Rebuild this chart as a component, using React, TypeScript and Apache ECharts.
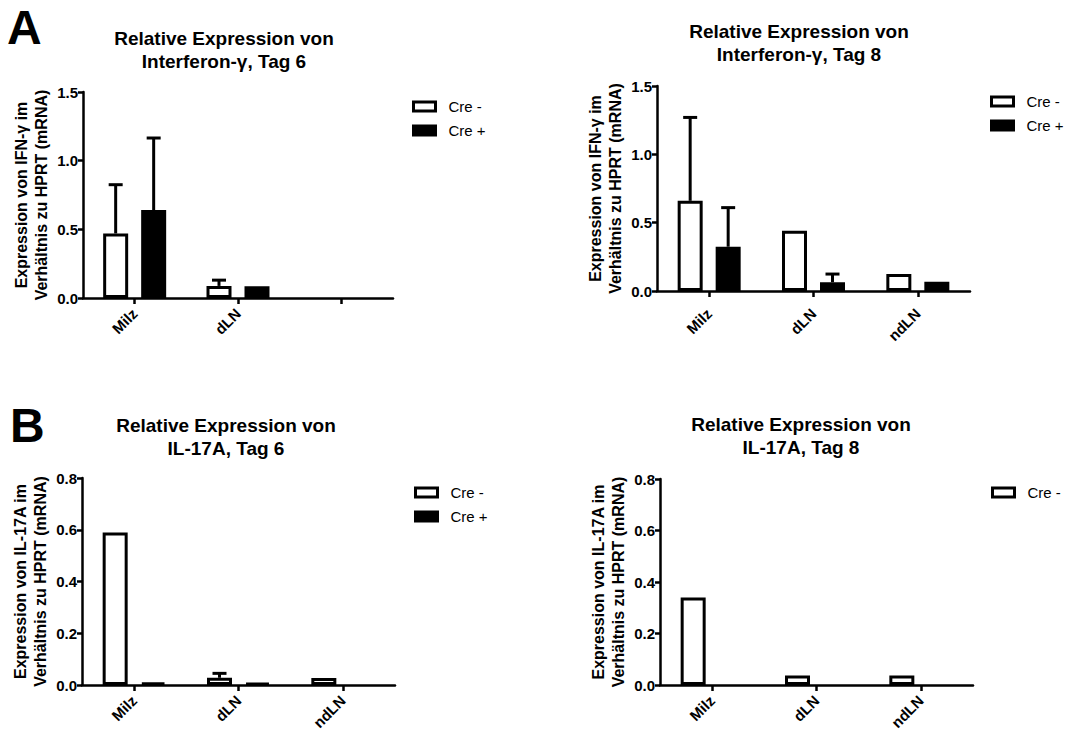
import React, { useEffect, useRef } from "react";
import * as echarts from "echarts";

// ---- Data ----
const catsA6 = ["Milz", "dLN", ""];
const cats = ["Milz", "dLN", "ndLN"];

const ifn6Neg = [0.47, 0.088, null];
const ifn6NegSd = [0.355, 0.042, 0];
const ifn6Pos = [0.64, 0.085, null];
const ifn6PosSd = [0.525, 0, 0];

const ifn8Neg = [0.66, 0.44, 0.124];
const ifn8NegSd = [0.61, 0, 0];
const ifn8Pos = [0.324, 0.064, 0.068];
const ifn8PosSd = [0.286, 0.06, 0];

const il6Neg = [0.589, 0.028, 0.027];
const il6NegSd = [0, 0.017, 0];
const il6Pos = [0.009, 0.008, null];
const il6PosSd = [0, 0, 0];

const il8Neg = [0.34, 0.037, 0.037];
const il8NegSd = [0, 0, 0];
const il8Pos = [null, null, null];
const il8PosSd = [0, 0, 0];

const ticksIfn = { min: 0, max: 1.5, interval: 0.5 };
const ticksIl = { min: 0, max: 0.8, interval: 0.2 };

const titles = [
  "Relative Expression von\nInterferon-γ, Tag 6",
  "Relative Expression von\nInterferon-γ, Tag 8",
  "Relative Expression von\nIL-17A, Tag 6",
  "Relative Expression von\nIL-17A, Tag 8",
];
const yNameIfn = "Expression von IFN-γ im\nVerhältnis zu HPRT (mRNA)";
const yNameIl = "Expression von IL-17A im\nVerhältnis zu HPRT (mRNA)";
const legendAll = ["Cre -", "Cre +"];
const legendNeg = ["Cre -"];

// ---- Style constants ----
const FONT = "Liberation Sans, Arial, sans-serif";
const BAR_W = 25;
const GAP_PX = 13;
const OFF = (BAR_W + GAP_PX) / 2;

export default function App() {
  const ref = useRef<HTMLDivElement>(null);
  useEffect(() => {
    document.body.style.margin = "0";
    const chart = echarts.init(ref.current!, null, { renderer: "svg" });

    const grids = [
      { left: 83, top: 92, width: 310, height: 206 },
      { left: 657, top: 86, width: 313, height: 205 },
      { left: 82, top: 478, width: 313, height: 207 },
      { left: 660, top: 479, width: 313, height: 206 },
    ];
    const labelMargins = [13, 20, 13, 13];
    const panelCats = [catsA6, cats, cats, cats];
    const panelTicks = [ticksIfn, ticksIfn, ticksIl, ticksIl];
    const panelYName = [yNameIfn, yNameIfn, yNameIl, yNameIl];
    const panelData = [
      [ifn6Neg, ifn6NegSd, ifn6Pos, ifn6PosSd],
      [ifn8Neg, ifn8NegSd, ifn8Pos, ifn8PosSd],
      [il6Neg, il6NegSd, il6Pos, il6PosSd],
      [il8Neg, il8NegSd, il8Pos, il8PosSd],
    ];

    const axisLine = { show: true, lineStyle: { color: "#000", width: 2.5 } };

    const xAxis = panelCats.map((c, i) => ({
      type: "category",
      gridIndex: i,
      data: c,
      axisLine,
      axisTick: { show: true, alignWithLabel: true, length: 6, lineStyle: { color: "#000", width: 2.5 } },
      axisLabel: {
        show: true,
        interval: 0,
        rotate: 45,
        hideOverlap: false,
        margin: labelMargins[i],
        color: "#000",
        fontWeight: "bold",
        fontSize: 15,
        fontFamily: FONT,
      },
      splitLine: { show: false },
    }));

    const yAxis = panelTicks.map((t, i) => ({
      type: "value",
      gridIndex: i,
      min: t.min,
      max: t.max,
      interval: t.interval,
      name: panelYName[i],
      nameLocation: "middle",
      nameRotate: 90,
      nameGap: 32,
      nameTextStyle: { color: "#000", fontWeight: "bold", fontSize: 16, fontFamily: FONT, lineHeight: 20 },
      axisLine,
      axisTick: { show: true, length: 5, lineStyle: { color: "#000", width: 2.5 } },
      axisLabel: {
        color: "#000",
        fontWeight: "bold",
        fontSize: 15,
        fontFamily: FONT,
        margin: 5,
        formatter: (v: number) => v.toFixed(1),
      },
      splitLine: { show: false },
    }));

    const errRender = (offset: number) => (params: any, api: any) => {
      const x = api.value(0);
      const v = api.value(1);
      const e = api.value(2);
      const p0 = api.coord([x, v]);
      const p1 = api.coord([x, v + e]);
      const cx = p0[0] + offset;
      const st = { stroke: "#000", lineWidth: 3 };
      return {
        type: "group",
        children: [
          { type: "line", shape: { x1: cx, y1: p0[1], x2: cx, y2: p1[1] }, style: st },
          { type: "line", shape: { x1: cx - 7, y1: p1[1], x2: cx + 7, y2: p1[1] }, style: st },
        ],
      };
    };

    const series: any[] = [];
    panelData.forEach((d, i) => {
      const [neg, negSd, pos, posSd] = d;
      const common = {
        type: "bar",
        xAxisIndex: i,
        yAxisIndex: i,
        barWidth: BAR_W,
        barGap: (GAP_PX / BAR_W) * 100 + "%",
      };
      series.push({
        ...common,
        name: "Cre -",
        data: neg,
        itemStyle: { color: "#fff", borderColor: "#000", borderWidth: 3 },
      });
      series.push({
        ...common,
        name: "Cre +",
        data: pos,
        itemStyle: { color: "#000", borderColor: "#000", borderWidth: 3 },
      });
      const eNeg = neg
        .map((v, k) => [k, v, negSd[k]])
        .filter((r) => r[1] != null && (r[2] as number) > 0);
      const ePos = pos
        .map((v, k) => [k, v, posSd[k]])
        .filter((r) => r[1] != null && (r[2] as number) > 0);
      series.push({
        type: "custom",
        name: "errNeg",
        xAxisIndex: i,
        yAxisIndex: i,
        z: 5,
        renderItem: errRender(-OFF),
        data: eNeg,
      });
      series.push({
        type: "custom",
        name: "errPos",
        xAxisIndex: i,
        yAxisIndex: i,
        z: 5,
        renderItem: errRender(OFF),
        data: ePos,
      });
    });

    const legendBase = {
      orient: "vertical",
      icon: "rect",
      itemWidth: 22,
      itemHeight: 9,
      itemGap: 9,
      selectedMode: false,
      itemStyle: { borderWidth: 3, borderColor: "#000" },
      textStyle: { color: "#000", fontSize: 15, fontFamily: FONT, padding: [0, 0, 0, 8] },
    };
    const legend = [
      { ...legendBase, left: 407, top: 94, data: legendAll },
      { ...legendBase, left: 985, top: 89, data: legendAll },
      { ...legendBase, left: 409, top: 480, data: legendAll },
      { ...legendBase, left: 986, top: 480, data: legendNeg },
    ];

    const titleStyle = {
      fill: "#000",
      font: `bold 19px ${FONT}`,
      textAlign: "center",
      textVerticalAlign: "middle",
      lineHeight: 23,
    };
    const titlePos = [
      [224, 50],
      [799, 43],
      [226, 437],
      [801, 436],
    ];

    const graphic: any[] = [
      { type: "text", x: 7, y: 27, style: { text: "A", fill: "#000", font: `bold 48px ${FONT}`, textVerticalAlign: "middle" } },
      { type: "text", x: 10, y: 425, style: { text: "B", fill: "#000", font: `bold 48px ${FONT}`, textVerticalAlign: "middle" } },
      ...titles.map((t, i) => ({
        type: "text",
        x: titlePos[i][0],
        y: titlePos[i][1],
        style: { ...titleStyle, text: t },
      })),
    ];

    chart.setOption({
      animation: false,
      backgroundColor: "#fff",
      grid: grids.map((g) => ({ ...g, containLabel: false, outerBoundsMode: "none" })),
      xAxis,
      yAxis,
      legend,
      series,
      graphic,
    });
    return () => chart.dispose();
  }, []);
  return <div ref={ref} style={{ width: 1071, height: 733, position: "absolute", left: 0, top: 0 }} />;
}
